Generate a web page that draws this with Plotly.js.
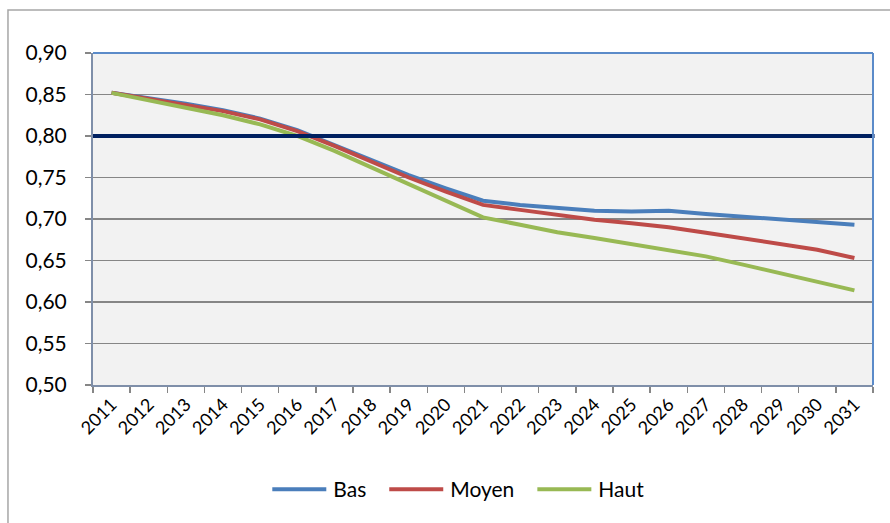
<!DOCTYPE html>
<html>
<head>
<meta charset="utf-8">
<script src="https://cdn.plot.ly/plotly-3.0.1.min.js"></script>
<style>
html,body{margin:0;padding:0;background:#fff;}
#chart{width:890px;height:523px;}
</style>
</head>
<body>
<div id="chart"></div>
<script>
var years = ["2011","2012","2013","2014","2015","2016","2017","2018","2019","2020","2021","2022","2023","2024","2025","2026","2027","2028","2029","2030","2031"];
var bas   = [0.852,0.846,0.839,0.831,0.821,0.807,0.789,0.771,0.753,0.737,0.722,0.717,0.713,0.710,0.709,0.710,0.706,0.703,0.700,0.697,0.693];
var moyen = [0.852,0.845,0.838,0.830,0.820,0.806,0.788,0.769,0.750,0.733,0.717,0.711,0.705,0.699,0.695,0.690,0.6835,0.677,0.670,0.663,0.653];
var haut  = [0.852,0.843,0.834,0.825,0.814,0.800,0.782,0.762,0.742,0.722,0.702,0.693,0.684,0.677,0.670,0.663,0.655,0.645,0.635,0.625,0.614];
var seuil = 0.80;
var yTicks = [0.50,0.55,0.60,0.65,0.70,0.75,0.80,0.85,0.90];

var fontFam = "Lato, 'Open Sans', sans-serif";
function tr(name, y, color){
  return {x: years, y: y, name: name, type: 'scatter', mode: 'lines',
          line: {color: color, width: 4}, hoverinfo: 'skip'};
}
var data = [
  tr('Bas', bas, '#4a7ebb'),
  tr('Moyen', moyen, '#be4b48'),
  tr('Haut', haut, '#98b954')
];
var layout = {
  width: 890, height: 523,
  margin: {l: 93, r: 17, t: 53, b: 138, autoexpand: false},
  paper_bgcolor: '#ffffff',
  plot_bgcolor: '#f2f2f2',
  separators: ', ',
  font: {family: fontFam, color: '#000000', size: 17},
  showlegend: true,
  legend: {orientation: 'h', x: 0.46, xanchor: 'center', y: -0.315, yanchor: 'middle',
           font: {size: 21, family: fontFam}, traceorder: 'normal', itemwidth: 69},
  xaxis: {type: 'category', tickson: 'boundaries', ticks: 'outside', ticklen: 6,
          tickcolor: '#868686', tickwidth: 1.5, tickangle: -45,
          showgrid: false, showline: true, linecolor: '#7f8fa9', linewidth: 2,
          tickfont: {size: 18, family: fontFam}, range: [-0.5, 20.5], fixedrange: true, automargin: false},
  yaxis: {range: [0.5, 0.9], tickvals: yTicks, tickformat: '.2f',
          ticks: 'outside', ticklen: 6, tickcolor: '#868686', tickwidth: 1.5,
          showgrid: true, gridcolor: '#868686', gridwidth: 1.5,
          showline: true, linecolor: '#7f8fa9', linewidth: 2, zeroline: false,
          tickfont: {size: 21, family: fontFam}, ticklabelstandoff: 14, fixedrange: true, automargin: false},
  shapes: [
    {type: 'line', xref: 'paper', yref: 'y', x0: 0, x1: 1.002, y0: seuil, y1: seuil,
     line: {color: '#002060', width: 4}, layer: 'above'},
    {type: 'line', xref: 'paper', yref: 'paper', x0: 0, x1: 1, y0: 1, y1: 1,
     line: {color: '#5b8bc9', width: 2}, layer: 'above'},
    {type: 'line', xref: 'paper', yref: 'paper', x0: 1, x1: 1, y0: 0, y1: 1,
     line: {color: '#5b8bc9', width: 2}, layer: 'above'},
    {type: 'rect', xref: 'paper', yref: 'paper', x0: -0.109, x1: 1.1, y0: -0.5, y1: 1.1295,
     line: {color: '#a6a6a6', width: 1.5}, fillcolor: 'rgba(0,0,0,0)', layer: 'below'}
  ]
};
Plotly.newPlot('chart', data, layout, {displayModeBar: false, staticPlot: true}).then(function(){
  document.querySelectorAll('.legend .legendlines path').forEach(function(p){
    p.setAttribute('d', 'M18,0h54');
  });
});
</script>
</body>
</html>
